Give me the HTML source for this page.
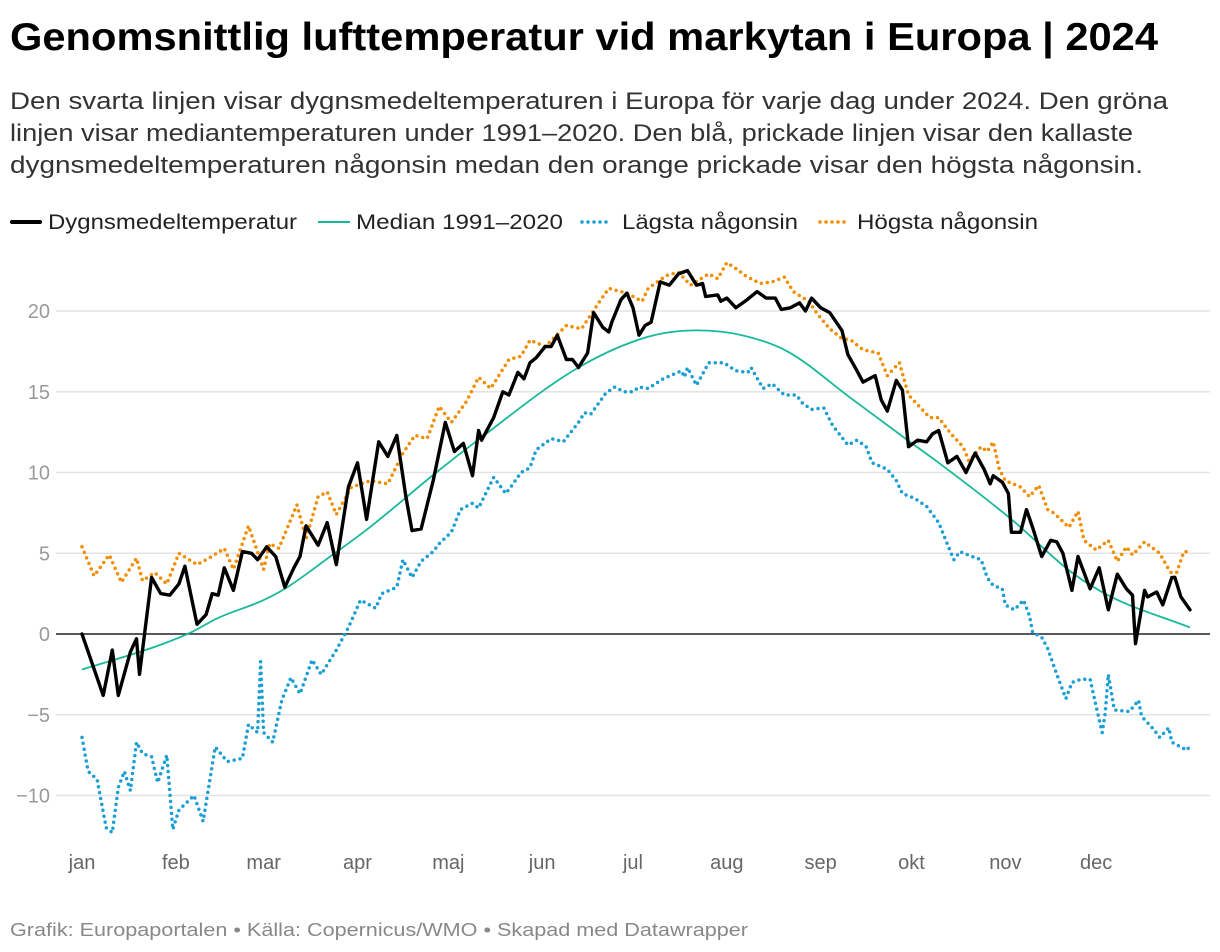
<!DOCTYPE html>
<html><head><meta charset="utf-8"><style>
html,body{margin:0;padding:0;background:#fff;}
svg{display:block;font-family:"Liberation Sans",sans-serif;}
</style></head><body>
<svg id="chart" width="1220" height="952" viewBox="0 0 1220 952" xmlns="http://www.w3.org/2000/svg">
<text x="10" y="50" font-size="39" font-weight="bold" fill="#000" textLength="1148" lengthAdjust="spacingAndGlyphs">Genomsnittlig lufttemperatur vid markytan i Europa | 2024</text>
<g font-size="24" fill="#333">
<text x="10" y="109" textLength="1158" lengthAdjust="spacingAndGlyphs">Den svarta linjen visar dygnsmedeltemperaturen i Europa för varje dag under 2024. Den gröna</text>
<text x="10" y="141" textLength="1123" lengthAdjust="spacingAndGlyphs">linjen visar mediantemperaturen under 1991–2020. Den blå, prickade linjen visar den kallaste</text>
<text x="10" y="173" textLength="1133" lengthAdjust="spacingAndGlyphs">dygnsmedeltemperaturen någonsin medan den orange prickade visar den högsta någonsin.</text>
</g>
<g font-size="21" fill="#222">
<g><line x1="12" y1="222" x2="40" y2="222" stroke="#000" stroke-width="4" stroke-linecap="round"/><text x="48" y="229" textLength="249" lengthAdjust="spacingAndGlyphs">Dygnsmedeltemperatur</text></g>
<g><line x1="318" y1="222" x2="350" y2="222" stroke="#18b99a" stroke-width="2"/><text x="356" y="229" textLength="207" lengthAdjust="spacingAndGlyphs">Median 1991–2020</text></g>
<g><line x1="582" y1="222" x2="612" y2="222" stroke="#1a9fd4" stroke-width="3.5" stroke-dasharray="0 6" stroke-linecap="round"/><text x="622" y="229" textLength="176" lengthAdjust="spacingAndGlyphs">Lägsta någonsin</text></g>
<g><line x1="820" y1="222" x2="850" y2="222" stroke="#f28c00" stroke-width="3.5" stroke-dasharray="0 6" stroke-linecap="round"/><text x="857" y="229" textLength="181" lengthAdjust="spacingAndGlyphs">Högsta någonsin</text></g>
</g>
<g id="grid"></g>
<g id="yaxis"></g>
<g id="xaxis"></g>
<g id="series"></g>
<text x="10" y="936" font-size="18" fill="#888" textLength="738" lengthAdjust="spacingAndGlyphs">Grafik: Europaportalen • Källa: Copernicus/WMO • Skapad med Datawrapper</text>
</svg>
<script>
const yTicks = [-10, -5, 0, 5, 10, 15, 20];
const yTickLabels = ["−10", "−5", "0", "5", "10", "15", "20"];
const monthLabels = ["jan","feb","mar","apr","maj","jun","jul","aug","sep","okt","nov","dec"];
const monthStartDays = [0,31,60,91,121,152,182,213,244,274,305,335];

const dailyDays = [0,7,10,12,16,18,19,23,26,29,32,34,38,41,43,45,47,50,53,56,58,61,64,67,70,72,74,78,81,84,88,91,94,98,101,104,107,109,112,116,120,123,126,129,131,132,136,139,141,144,146,148,150,153,155,157,160,162,164,167,169,172,174,175,178,180,182,184,186,188,191,194,197,200,203,205,206,210,211,213,216,219,223,226,229,231,234,237,239,241,244,247,251,253,256,258,262,264,266,269,271,273,276,279,281,283,286,289,292,295,298,300,301,304,306,307,310,312,314,317,320,322,324,327,329,333,336,339,342,345,347,348,351,352,355,357,360,361,363,366];
const dailyValues = [0,-3.8,-1.0,-3.8,-1.1,-0.3,-2.5,3.5,2.5,2.4,3.1,4.2,0.6,1.2,2.5,2.4,4.1,2.7,5.1,5.0,4.6,5.4,4.8,2.9,4.1,4.8,6.7,5.5,6.9,4.3,9.1,10.6,7.1,11.9,11.0,12.3,8.5,6.4,6.5,9.5,13.1,11.3,11.8,9.8,12.6,12.0,13.4,15.0,14.8,16.2,15.8,16.8,17.1,17.8,17.8,18.5,17.0,17.0,16.5,17.4,19.9,19.0,18.7,19.3,20.7,21.1,20.2,18.5,19.1,19.3,21.8,21.6,22.3,22.5,21.6,21.7,20.9,21.0,20.6,20.8,20.2,20.6,21.2,20.8,20.8,20.1,20.2,20.5,20.0,20.8,20.2,19.9,18.8,17.3,16.3,15.6,16.0,14.5,13.8,15.7,15.1,11.6,12.0,11.9,12.4,12.6,10.6,11.0,10.0,11.2,10.2,9.3,9.8,9.4,8.7,6.3,6.3,7.7,6.6,4.8,5.8,5.7,5.0,2.7,4.8,2.8,4.1,1.5,3.7,2.8,2.4,-0.6,2.7,2.3,2.6,1.8,3.5,3.5,2.3,1.5];

const medianDays = [0,24,36,45,60,67,82,95,117,130,164,187,203,218,233,254,272,283,307,327,340,366];
const medianValues = [-2.2,-0.8,0.1,1.0,2.1,2.8,4.8,6.6,10.0,11.9,16.5,18.4,18.8,18.5,17.5,14.6,12.1,10.6,7.1,3.8,2.3,0.4];

const highDays = [0,4,9,13,18,20,24,28,32,38,42,47,50,55,60,62,65,71,74,78,81,84,89,94,95,101,106,110,114,118,122,127,131,135,141,145,148,153,160,165,171,174,180,185,187,193,197,201,207,210,213,217,219,224,228,232,235,240,243,247,251,254,258,263,266,270,273,277,280,283,287,291,293,297,299,301,303,305,310,313,316,319,321,326,329,331,335,339,342,345,347,351,356,359,361,364,366];
const highValues = [5.4,3.6,4.9,3.2,4.7,3.3,3.8,3.1,5.0,4.3,4.7,5.3,4.0,6.7,4.0,5.6,5.3,8.0,5.9,8.5,8.8,7.4,9.1,9.4,9.5,9.3,11.2,12.3,12.1,14.1,13.1,14.4,15.9,15.2,17.0,17.2,18.2,17.8,19.1,18.9,20.6,21.4,21.1,20.6,21.4,22.2,22.4,21.6,22.3,22.0,23.0,22.5,22.2,21.7,21.8,22.1,21.2,20.6,19.8,18.9,18.3,18.2,17.6,17.4,16.0,16.8,14.8,14.0,13.4,13.4,12.4,11.6,10.7,11.6,11.3,11.9,10.2,9.5,9.1,8.5,9.2,7.7,7.5,6.6,7.6,5.8,5.2,5.8,4.5,5.4,4.9,5.7,5.0,4.0,3.5,5.1,5.1];

const lowDays = [0,2,5,8,10,12,14,16,18,20,23,25,28,30,32,37,40,44,48,53,55,58,59,60,63,66,69,72,76,79,84,88,92,97,99,104,106,109,112,116,118,122,125,129,131,136,140,142,145,148,150,155,159,164,166,168,173,176,179,182,184,187,192,198,199,200,203,207,212,216,220,221,225,228,232,236,238,241,245,248,253,256,259,261,266,269,271,275,279,283,286,288,290,294,297,299,301,304,305,308,311,313,314,317,319,322,325,327,330,333,335,337,338,339,341,346,349,350,354,356,359,360,365,366];
const lowValues = [-6.4,-8.5,-9.0,-12.0,-12.3,-9.5,-8.5,-9.7,-6.7,-7.4,-7.6,-9.2,-7.5,-12.1,-10.9,-10.0,-11.6,-7.0,-7.9,-7.7,-5.6,-6.1,-1.7,-6.1,-6.7,-4.1,-2.7,-3.7,-1.6,-2.5,-1.0,0.4,2.1,1.6,2.5,2.9,4.6,3.5,4.5,5.1,5.6,6.3,7.7,8.1,7.8,9.7,8.7,9.2,10.0,10.3,11.4,12.1,11.9,13.1,13.7,13.6,14.9,15.3,15.0,15.0,15.3,15.2,15.8,16.3,15.9,16.5,15.4,16.8,16.8,16.3,16.2,16.5,15.2,15.5,14.8,14.8,14.3,13.9,14.0,12.9,11.7,12.0,11.6,10.6,10.2,9.5,8.7,8.4,7.9,6.9,5.5,4.6,5.1,4.8,4.6,3.5,3.0,2.8,1.8,1.5,2.1,1.1,0.1,-0.2,-0.9,-2.5,-4.0,-3.0,-2.8,-2.8,-4.5,-6.1,-4.9,-2.5,-4.7,-4.8,-4.1,-5.1,-5.9,-6.4,-5.8,-6.7,-7.2,-6.9];

const NS = "http://www.w3.org/2000/svg";
const X0 = 82, X1 = 1190, DAYS = 366;
const Y0PIX = 634, YPX = 16.15;
function xScale(d){ return X0 + d * (X1 - X0) / DAYS; }
function yScale(v){ return Y0PIX - v * YPX; }
function mk(tag, attrs){ const e = document.createElementNS(NS, tag); for (const k in attrs) e.setAttribute(k, attrs[k]); return e; }

const grid = document.getElementById('grid'), yaxis = document.getElementById('yaxis'), xaxis = document.getElementById('xaxis'), series = document.getElementById('series');
yTicks.forEach((t, i) => {
  if (t !== 0) {
    const l = mk('line', {x1: 56, x2: 1210, y1: yScale(t), y2: yScale(t), stroke: '#e3e3e3', 'stroke-width': 1.5});
    
    
    grid.appendChild(l);
  }
  const tx = mk('text', {x: 50, y: yScale(t) + 7, 'text-anchor': 'end', 'font-size': 20, fill: '#9a9a9a'});
  tx.textContent = yTickLabels[i];
  
  
  yaxis.appendChild(tx);
});
monthLabels.forEach((m, i) => {
  const tx = mk('text', {x: xScale(monthStartDays[i]), y: 869, 'text-anchor': 'middle', 'font-size': 20, fill: '#666'});
  tx.textContent = m;
  
  
  xaxis.appendChild(tx);
});

function linePath(days, vals){ return days.map((d, i) => (i ? 'L' : 'M') + xScale(d).toFixed(1) + ' ' + yScale(vals[i]).toFixed(1)).join(' '); }
function smoothPath(days, vals){
  const xs = days.map(xScale), ys = vals.map(yScale), n = xs.length;
  const dx = [], m = [], t = [];
  for (let i = 0; i < n - 1; i++) { dx.push(xs[i+1] - xs[i]); m.push((ys[i+1] - ys[i]) / dx[i]); }
  t[0] = m[0]; t[n-1] = m[n-2];
  for (let i = 1; i < n - 1; i++) t[i] = (m[i-1] * m[i] <= 0) ? 0 : (m[i-1] + m[i]) / 2;
  let s = 'M' + xs[0].toFixed(1) + ' ' + ys[0].toFixed(1);
  for (let i = 0; i < n - 1; i++) {
    const h = dx[i] / 3;
    s += ` C${(xs[i]+h).toFixed(1)} ${(ys[i]+t[i]*h).toFixed(1)} ${(xs[i+1]-h).toFixed(1)} ${(ys[i+1]-t[i+1]*h).toFixed(1)} ${xs[i+1].toFixed(1)} ${ys[i+1].toFixed(1)}`;
  }
  return s;
}

const zero = mk('line', {x1: 56, x2: 1210, y1: yScale(0), y2: yScale(0), stroke: '#222', 'stroke-width': 1.5});


series.appendChild(zero);

const low = mk('path', {d: linePath(lowDays, lowValues), fill: 'none', stroke: '#1a9fd4', 'stroke-width': 3.5, 'stroke-dasharray': '0 6', 'stroke-linecap': 'round'});


series.appendChild(low);

const high = mk('path', {d: linePath(highDays, highValues), fill: 'none', stroke: '#f28c00', 'stroke-width': 3.5, 'stroke-dasharray': '0 6', 'stroke-linecap': 'round'});


series.appendChild(high);

const med = mk('path', {d: smoothPath(medianDays, medianValues), fill: 'none', stroke: '#18b99a', 'stroke-width': 1.8});


series.appendChild(med);

const daily = mk('path', {d: linePath(dailyDays, dailyValues), fill: 'none', stroke: '#000', 'stroke-width': 3.4, 'stroke-linejoin': 'round', 'stroke-linecap': 'round'});


series.appendChild(daily);
</script>
</body></html>
